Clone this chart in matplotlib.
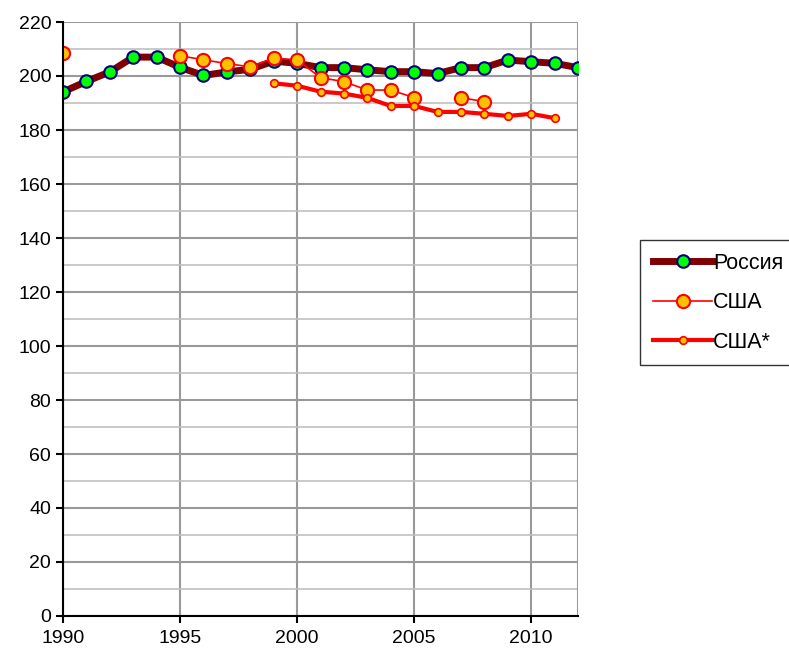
import matplotlib
matplotlib.use("Agg")
import matplotlib.pyplot as plt
import numpy as np

plt.rcParams['font.family'] = ['Liberation Sans', 'DejaVu Sans']

years_ru = list(range(1990, 2013))
russia = [194.1, 198.0, 201.5, 207.0, 207.0, 203.2, 200.2, 201.5, 202.5, 205.5, 204.7,
          203.1, 203.1, 202.3, 201.6, 201.6, 200.9, 203.1, 203.1, 205.9, 205.3, 204.7, 203.1]

years_us = [1990, 1991, 1992, 1993, 1994, 1995, 1996, 1997, 1998, 1999, 2000,
            2001, 2002, 2003, 2004, 2005, 2006, 2007, 2008]
usa = [208.5, None, None, None, None, 207.5, 206.0, 204.6, 203.4, 206.6, 206.0,
       199.4, 197.9, 194.8, 194.8, 192.0, None, 192.0, 190.5]

years_us2 = list(range(1999, 2012))
usa2 = [197.3, 196.4, 194.2, 193.5, 191.9, 188.9, 188.9, 186.7, 186.7, 186.0, 185.2, 186.0, 184.4]

xticks = [1990, 1995, 2000, 2005, 2010]
yticks = list(range(0, 221, 20))

fig = plt.figure(figsize=(7.89, 6.53), dpi=100)
ax = fig.add_axes([63/789, 1-616/653, (578-63)/789, (616-22)/653])

usa_arr = np.array([np.nan if v is None else v for v in usa], dtype=float)

l1, = ax.plot(years_ru, russia, color='#800000', lw=5, marker='o', ms=9,
              mfc='#00ff00', mec='#000080', mew=1.5, zorder=3, label='Россия')
l2, = ax.plot(years_us, usa_arr, color='#ff0000', lw=1.2, marker='o', ms=9.5,
              mfc='#ffc000', mec='#ff0000', mew=1.5, zorder=4, label='США')
l3, = ax.plot(years_us2, usa2, color='#ff0000', lw=3, marker='o', ms=5.5,
              mfc='#ffc000', mec='#ff0000', mew=1.2, zorder=4, label='США*')

ax.set_xlim(1990, 2012)
ax.set_ylim(0, 220)
ax.set_xticks(xticks)
ax.set_yticks(yticks)
ax.set_yticks(list(range(10, 220, 20)), minor=True)
ax.tick_params(axis='both', which='major', direction='out', length=5, width=1.5,
               labelsize=14, colors='black')
ax.tick_params(axis='x', which='major', pad=5)
ax.tick_params(axis='y', which='minor', length=0)
ax.grid(which='major', color='#999999', lw=1.5)
ax.grid(which='minor', axis='y', color='#c0c0c0', lw=1.2)
ax.axvline(2012, color='#999999', lw=1.5)
ax.set_axisbelow(True)

for s in ['top', 'right']:
    ax.spines[s].set_visible(False)
for s in ['left', 'bottom']:
    ax.spines[s].set_linewidth(1.5)
    ax.spines[s].set_zorder(5)

leg = fig.legend(handles=[l1, l2, l3], loc='upper left',
                 bbox_to_anchor=(640/789, 1-240/653), fontsize=15.5,
                 frameon=True, fancybox=False, handlelength=2.75, handletextpad=0.05,
                 borderaxespad=0, borderpad=0.6, labelspacing=0.85)
leg.get_frame().set_edgecolor('black')
leg.get_frame().set_linewidth(1.0)

fig.savefig('out.png', dpi=100)
